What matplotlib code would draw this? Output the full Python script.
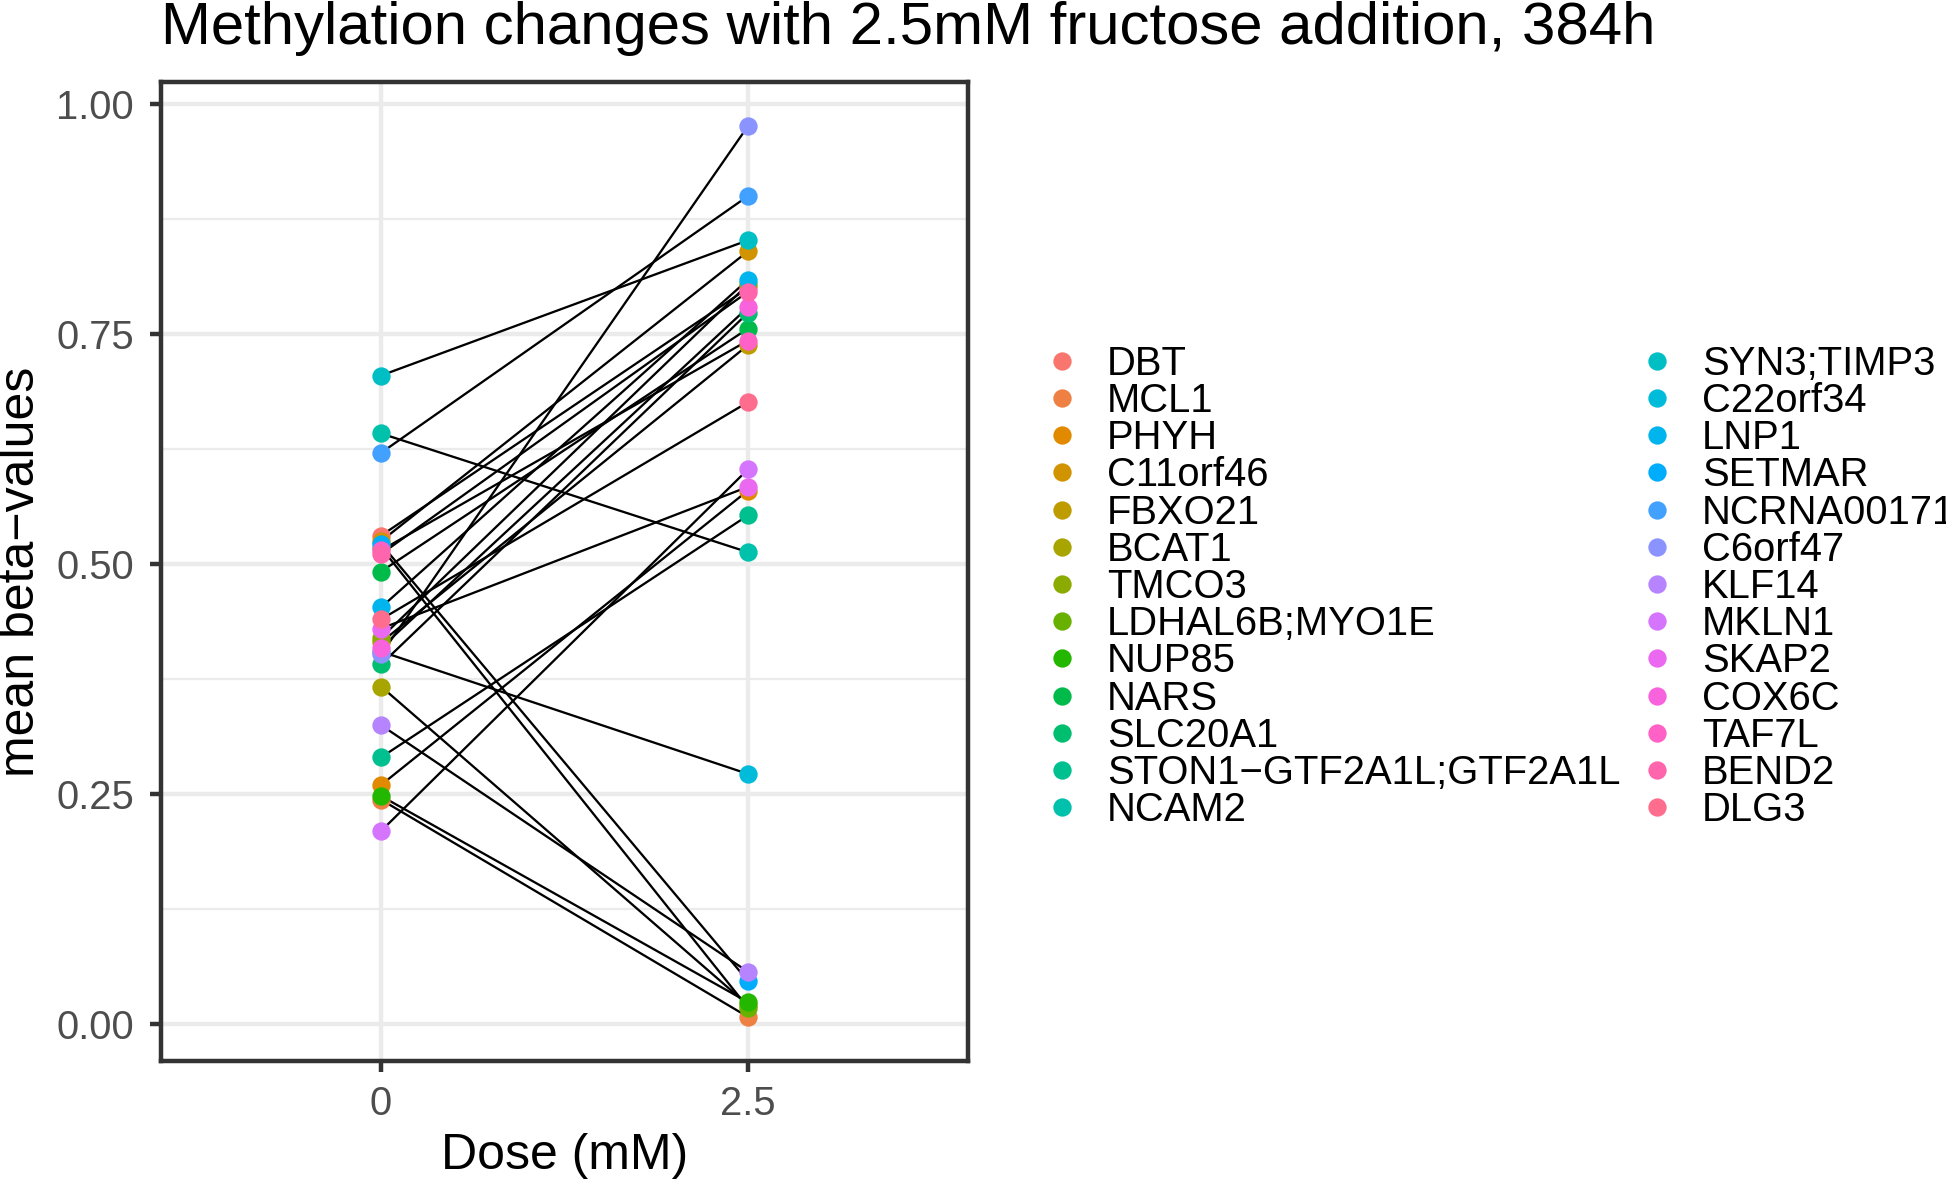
import numpy as np
import matplotlib
matplotlib.use("Agg")
import matplotlib.pyplot as plt
from matplotlib.lines import Line2D

plt.rcParams['font.family'] = ['Liberation Sans', 'DejaVu Sans']

# ---------------- data ----------------
genes = ["DBT", "MCL1", "PHYH", "C11orf46", "FBXO21", "BCAT1", "TMCO3",
         "LDHAL6B;MYO1E", "NUP85", "NARS", "SLC20A1",
         "STON1\u2212GTF2A1L;GTF2A1L", "NCAM2", "SYN3;TIMP3", "C22orf34",
         "LNP1", "SETMAR", "NCRNA00171", "C6orf47", "KLF14", "MKLN1",
         "SKAP2", "COX6C", "TAF7L", "BEND2", "DLG3"]
doses = [0, 2.5]
beta_dose0 = [0.531, 0.244, 0.260, 0.525, 0.415, 0.367, 0.420,
              0.518, 0.248, 0.492, 0.391,
              0.290, 0.642, 0.705, 0.405,
              0.453, 0.522, 0.621, 0.402, 0.325, 0.210,
              0.430, 0.409, 0.515, 0.511, 0.440]
beta_dose25 = [0.800, 0.008, 0.580, 0.840, 0.738, 0.021, 0.804,
               0.018, 0.024, 0.756, 0.773,
               0.553, 0.513, 0.852, 0.272,
               0.809, 0.047, 0.900, 0.976, 0.057, 0.603,
               0.584, 0.779, 0.743, 0.796, 0.676]
y_ticks = [0.00, 0.25, 0.50, 0.75, 1.00]
y_ticklabels = ["0.00", "0.25", "0.50", "0.75", "1.00"]
x_ticklabels = ["0", "2.5"]


def hcl_to_rgb(h, c=100.0, l=65.0):
    Xn, Yn, Zn = 95.047, 100.0, 108.883
    un = 4 * Xn / (Xn + 15 * Yn + 3 * Zn)
    vn = 9 * Yn / (Xn + 15 * Yn + 3 * Zn)
    hr = np.deg2rad(h)
    U = c * np.cos(hr)
    V = c * np.sin(hr)
    Y = Yn * (((l + 16) / 116) ** 3 if l > 8 else l / 903.3)
    u = U / (13 * l) + un
    v = V / (13 * l) + vn
    X = 9.0 * Y * u / (4 * v)
    Z = -X / 3 - 5 * Y + 3 * Y / v
    X, Y, Z = X / 100, Y / 100, Z / 100
    r = 3.240479 * X - 1.537150 * Y - 0.498535 * Z
    g = -0.969256 * X + 1.875992 * Y + 0.041556 * Z
    b = 0.055648 * X - 0.204043 * Y + 1.057311 * Z

    def gam(t):
        t = 1.055 * t ** (1 / 2.4) - 0.055 if t > 0.0031308 else 12.92 * t
        return min(max(t, 0.0), 1.0)
    return (gam(r), gam(g), gam(b))


n = len(genes)
colors = [hcl_to_rgb(15 + 360 * i / n) for i in range(n)]

# ---------------- figure ----------------
W, H, DPI = 1946, 1182, 300
fig = plt.figure(figsize=(W / DPI, H / DPI), dpi=DPI)
ax = fig.add_axes([161 / W, 1 - 1061 / H, (968 - 161) / W, (1061 - 82) / H])

grid_col = "#EBEBEB"
ax.set_facecolor("white")
for yv in [0.125, 0.375, 0.625, 0.875]:
    ax.axhline(yv, color=grid_col, lw=0.53, zorder=0)
for yv in y_ticks:
    ax.axhline(yv, color=grid_col, lw=1.07, zorder=0)
for xv in doses:
    ax.axvline(xv, color=grid_col, lw=1.07, zorder=0)

for i in range(n):
    ax.plot(doses, [beta_dose0[i], beta_dose25[i]], color="black",
            lw=0.55, zorder=2, solid_capstyle="butt")
for i in range(n):
    ax.plot(doses, [beta_dose0[i], beta_dose25[i]], linestyle="none",
            marker="o", markersize=4.4, markeredgewidth=0,
            color=colors[i], zorder=3 + i * 0.01)

ax.set_xlim(-1.5, 4.0)
ax.set_ylim(-0.040, 1.024)
ax.set_xticks(doses)
ax.set_xticklabels(x_ticklabels)
ax.set_yticks(y_ticks)
ax.set_yticklabels(y_ticklabels)
ax.tick_params(axis="both", length=11.5 * 72 / DPI, width=1.07,
               color="#333333", labelsize=9.6, labelcolor="#4D4D4D")
ax.tick_params(axis="x", pad=3.0)
ax.tick_params(axis="y", pad=3.7)
for sp in ax.spines.values():
    sp.set_color("#333333")
    sp.set_linewidth(1.07)

ax.set_xlabel("Dose (mM)", fontsize=12, labelpad=2.5)
ax.set_ylabel("mean beta\u2212values", fontsize=12, labelpad=3)
ax.set_title("Methylation changes with 2.5mM fructose addition, 384h",
             fontsize=14.4, loc="left", pad=9.0)

handles = [Line2D([0], [0], linestyle="none", marker="o", markersize=4.4,
                  markeredgewidth=0, color=colors[i]) for i in range(n)]
fig.legend(handles, genes, loc="center left",
           bbox_to_anchor=(1042 / W, 1 - 587 / H), ncol=2,
           frameon=False, fontsize=9.6, borderpad=0, handlelength=1.0,
           handletextpad=0.62, columnspacing=0.42, labelspacing=-0.02,
           borderaxespad=0)

fig.savefig("out.png", dpi=DPI)
